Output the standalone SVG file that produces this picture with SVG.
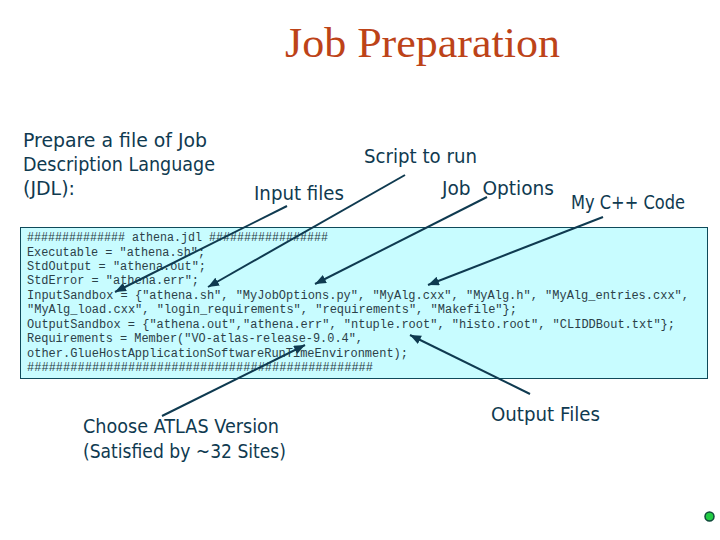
<svg xmlns="http://www.w3.org/2000/svg" width="720" height="540" viewBox="0 0 720 540">
<style>
.t{font-family:"Liberation Serif",serif;font-size:42px;fill:#bd4318}
.l{font-family:"DejaVu Sans",sans-serif;font-size:20px;fill:#0f3a50}
.c{font-family:"Liberation Mono",monospace;font-size:12px;fill:#2b4048}
.a{stroke:#0f3a50;stroke-width:2;fill:none;marker-end:url(#h)}
</style>
<defs><marker id="h" markerUnits="userSpaceOnUse" markerWidth="12" markerHeight="10" refX="11" refY="4.5" orient="auto"><path d="M0 0L11 4.5L0 9Z" fill="#0f3a50"/></marker></defs>
<rect width="720" height="540" fill="#fff"/>
<text class="t" x="285" y="57" textLength="275" lengthAdjust="spacingAndGlyphs">Job Preparation</text>
<g id="intro"><text class="l" x="23" y="147" textLength="184" lengthAdjust="spacingAndGlyphs">Prepare a file of Job</text><text class="l" x="23" y="171" textLength="192" lengthAdjust="spacingAndGlyphs">Description Language</text><text class="l" x="23" y="195" textLength="52" lengthAdjust="spacingAndGlyphs">(JDL):</text></g>
<g id="jdl"><rect x="20.500" y="227.500" width="687" height="151" fill="#c8fcff" stroke="#0f4a5a" stroke-width="1"/>
<text class="c" x="27" y="241" textLength="301" lengthAdjust="spacingAndGlyphs">############## athena.jdl #################</text>
<text class="c" x="27" y="256" textLength="178" lengthAdjust="spacingAndGlyphs">Executable = "athena.sh";</text>
<text class="c" x="27" y="270" textLength="179" lengthAdjust="spacingAndGlyphs">StdOutput = "athena.out";</text>
<text class="c" x="27" y="284" textLength="172" lengthAdjust="spacingAndGlyphs">StdError = "athena.err";</text>
<text class="c" x="27" y="299" textLength="662" lengthAdjust="spacingAndGlyphs">InputSandbox = {"athena.sh", "MyJobOptions.py", "MyAlg.cxx", "MyAlg.h", "MyAlg_entries.cxx",</text>
<text class="c" x="27" y="313" textLength="490" lengthAdjust="spacingAndGlyphs">"MyAlg_load.cxx", "login_requirements", "requirements", "Makefile"};</text>
<text class="c" x="27" y="328" textLength="648" lengthAdjust="spacingAndGlyphs">OutputSandbox = {"athena.out","athena.err", "ntuple.root", "histo.root", "CLIDDBout.txt"};</text>
<text class="c" x="27" y="342" textLength="336" lengthAdjust="spacingAndGlyphs">Requirements = Member("VO-atlas-release-9.0.4",</text>
<text class="c" x="27" y="357" textLength="381" lengthAdjust="spacingAndGlyphs">other.GlueHostApplicationSoftwareRunTimeEnvironment);</text>
<text class="c" x="27" y="371" textLength="346" lengthAdjust="spacingAndGlyphs">################################################</text></g>
<g id="script"><text class="l" x="364" y="163" textLength="113" lengthAdjust="spacingAndGlyphs">Script to run</text></g>
<g id="inputs"><text class="l" x="254" y="200" textLength="90" lengthAdjust="spacingAndGlyphs">Input files</text></g>
<g id="options"><text class="l" x="442" y="195" textLength="112" lengthAdjust="spacingAndGlyphs" xml:space="preserve">Job  Options</text></g>
<g id="code"><text class="l" x="571" y="209" textLength="114" lengthAdjust="spacingAndGlyphs">My C++ Code</text></g>
<g id="version"><text class="l" x="83" y="433" textLength="196" lengthAdjust="spacingAndGlyphs">Choose ATLAS Version</text><text class="l" x="83" y="458" textLength="203" lengthAdjust="spacingAndGlyphs">(Satisfied by ~32 Sites)</text></g>
<g id="outputs"><text class="l" x="491" y="421" textLength="109" lengthAdjust="spacingAndGlyphs">Output Files</text></g>
<g id="connectors">
<path class="a" d="M287 206L115 292"/>
<path class="a" d="M405 175L208 287"/>
<path class="a" d="M487 197L315 284"/>
<path class="a" d="M603 217L428 285"/>
<path class="a" d="M530 394L410 335"/>
<path class="a" d="M162 416L305 345"/>
</g>
<circle id="dot" cx="709.500" cy="516.500" r="4.500" fill="#22cc44" stroke="#0f4a3a" stroke-width="1.500"/>
</svg>
